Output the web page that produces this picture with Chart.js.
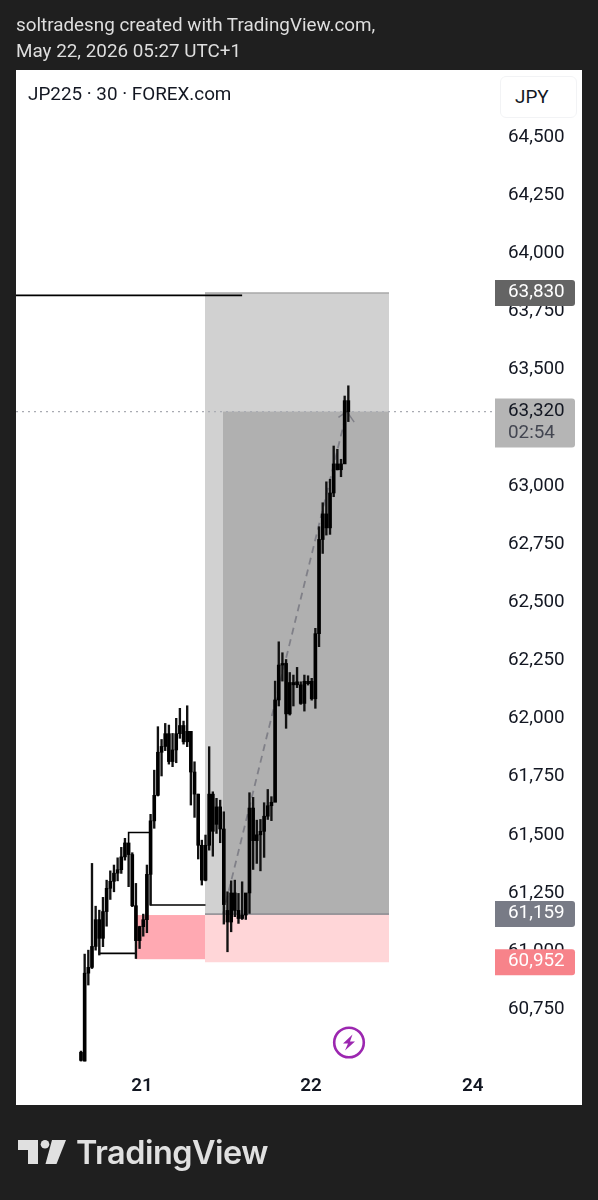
<!DOCTYPE html>
<html>
<head>
<meta charset="utf-8">
<script src="https://cdn.jsdelivr.net/npm/chart.js@4"></script>
<style>
  html, body { margin: 0; padding: 0; background: #1f1f1f; }
  body { width: 598px; height: 1200px; position: relative; overflow: hidden; font-family: Roboto, sans-serif; }
  canvas { position: absolute; left: 0; top: 0; }
  .abs { position: absolute; white-space: nowrap; }
  .head { left: 16px; color: #dedede; font-size: 18.85px; line-height: 28px; }
  #legend { left: 28px; top: 81px; color: #131722; font-size: 18.85px; line-height: 26px; }
  #currency { left: 500px; top: 76px; width: 61px; height: 40px; padding-left: 14px; border: 1px solid #f2f3f5; border-radius: 6px; box-sizing: content-box; color: #131722; font-size: 18.85px; line-height: 40px; background: #fff; }
  #brand { left: 76px; top: 1131px; color: #e0e0e0; font-family: Inter, sans-serif; font-size: 32.4px; font-weight: 600; line-height: 44px; letter-spacing: -0.5px; }
</style>
</head>
<body>
<canvas id="chart" width="598" height="1200"></canvas>
<div class="abs head" style="top:11px">soltradesng created with TradingView.com,</div>
<div class="abs head" style="top:37px">May 22, 2026 05:27 UTC+1</div>
<div class="abs" id="legend">JP225 · 30 · FOREX.com</div>
<div class="abs" id="currency">JPY</div>
<svg class="abs" style="left:331px;top:1025px" width="36" height="36" viewBox="0 0 36 36">
  <circle cx="18" cy="17.5" r="14.8" fill="none" stroke="#9c27b0" stroke-width="2.6"/>
  <path d="M21.5 9.5 L12 18.5 L17 18.5 L14 25.5 L24 16.5 L19 16.5 Z" fill="#9c27b0"/>
</svg>
<svg class="abs" style="left:16px;top:1136px" width="54" height="32" viewBox="0 0 54 32">
  <path d="M2 4 H22 V28 H12 V14 H2 Z" fill="#e0e0e0"/>
  <circle cx="29" cy="8.2" r="4.3" fill="#e0e0e0"/>
  <path d="M36 4 H50 L40.5 28 H29.5 Z" fill="#e0e0e0"/>
</svg>
<div class="abs" id="brand">TradingView</div>

<script>
// 30 min candles
const opens = [60530, 60527, 60905, 60930, 61020, 61135, 61055, 61170, 61270, 61300,
  61335, 61350, 61405, 61465, 61415, 61195, 61045, 61105, 61135, 61330,
  61560, 61670, 61855, 61880, 61935, 61815, 61865, 61935, 61970, 61900,
  61945, 61770, 61675, 61455, 61305, 61455, 61675, 61545, 61620, 61525,
  61175, 61125, 61250, 61175, 61140, 61155, 61250, 61615, 61475, 61500,
  61515, 61580, 61625, 61640, 62080, 62230, 62237, 62020, 62155, 62145,
  62145, 62065, 62160, 62160, 62085, 62365, 62770, 62880, 62820, 62970,
  63095, 63070, 63095, 63367];
const closes = [60565, 60905, 60930, 61020, 61135, 61055, 61170, 61270, 61300, 61335,
  61350, 61405, 61465, 61415, 61195, 61045, 61105, 61135, 61330, 61560,
  61670, 61855, 61880, 61935, 61815, 61865, 61935, 61970, 61900, 61945,
  61770, 61675, 61455, 61305, 61455, 61675, 61515, 61620, 61525, 61200,
  61125, 61250, 61175, 61140, 61155, 61250, 61615, 61475, 61500, 61515,
  61580, 61625, 61640, 62080, 62230, 62237, 62020, 62155, 62145, 62158,
  62065, 62160, 62150, 62085, 62365, 62770, 62880, 62820, 62970, 63095,
  63070, 63095, 63367, 63320];
const highs = [60570, 60987, 61004, 61377, 61193, 61176, 61231, 61305, 61345, 61370,
  61401, 61446, 61485, 61463, 61423, 61291, 61107, 61159, 61370, 61588,
  61778, 61965, 61910, 61979, 61972, 61936, 62001, 62044, 61989, 62055,
  61943, 61814, 61675, 61477, 61499, 61879, 61685, 61657, 61649, 61599,
  61255, 61302, 61305, 61248, 61298, 61248, 61681, 61661, 61563, 61566,
  61638, 61695, 61664, 62161, 62330, 62283, 62254, 62198, 62187, 62220,
  62158, 62187, 62184, 62173, 62388, 62825, 62928, 63018, 63029, 63172,
  63158, 63115, 63387, 63431];
const lows = [60527, 60527, 60854, 60925, 61004, 60983, 61019, 61107, 61222, 61255,
  61302, 61334, 61391, 61277, 61191, 60968, 61011, 61064, 61079, 61198,
  61528, 61667, 61753, 61862, 61804, 61793, 61810, 61915, 61890, 61879,
  61628, 61575, 61396, 61284, 61302, 61434, 61408, 61506, 61466, 61116,
  60997, 61083, 61148, 61119, 61136, 61136, 61162, 61351, 61377, 61345,
  61403, 61566, 61561, 61642, 62054, 62161, 61958, 62015, 62054, 62133,
  62061, 62032, 62144, 62079, 62044, 62309, 62710, 62789, 62792, 62954,
  63069, 63040, 63100, 63277];

const priceTicks = [64500, 64250, 64000, 63750, 63500, 63000, 62750, 62500, 62250, 62000, 61750, 61500, 61250, 61000, 60750];
const dayTicks = [16.66, 62.8, 107];
const dayLabels = ['21', '22', '24'];

// levels of the drawings
const target = 63830;
const last = 63320;
const entry = 61159;
const stop = 60952;
const lastTime = '02:54';
const positionStart = 33.86;
const positionEntry = 38.78;
const positionEnd = 84.1;
const demandStart = 15.02;
const demandTop = 61155;
const demandBottom = 60965;
const swingHighX = [-17.75, 44];
const swingHighY = [63820, 63820];
const structureLowX = [5, 5, 15];
const structureLowY = [61130, 60990, 60990];
const structureHighX = [13, 13, 19, 19, 34];
const structureHighY = [61463, 61510, 61510, 61198, 61198];
const pathX = [38.78, 72.6];
const pathY = [61159, 63320];
const arrowX = [70.3, 72.6, 74.6];
const arrowY = [63295, 63320, 63275];

const xMin = -17.75, xMax = 113.05;
const yMin = 60480, yMax = 64789;

function pts(xs, ys) {
  return xs.map((x, i) => ({ x: x, y: ys[i] }));
}
function lineSet(xs, ys, color, width, dash, order) {
  return { type: 'line', data: pts(xs, ys), borderColor: color, borderWidth: width, borderDash: dash || [], pointRadius: 0, tension: 0, order: order };
}

// white panel and position boxes behind the candles
const panelPlugin = {
  id: 'panel',
  beforeDraw(chart) {
    const c = chart.ctx;
    c.save();
    c.fillStyle = '#ffffff';
    c.fillRect(16, 70, 566, 1035);
    c.restore();
  },
  beforeDatasetsDraw(chart) {
    const c = chart.ctx, x = chart.scales.x, y = chart.scales.y;
    const box = (x0, x1, top, bot, color) => {
      c.fillStyle = color;
      c.fillRect(x.getPixelForValue(x0), y.getPixelForValue(top), x.getPixelForValue(x1) - x.getPixelForValue(x0), y.getPixelForValue(bot) - y.getPixelForValue(top));
    };
    c.save();
    box(positionStart, positionEnd, target, entry, '#d1d1d1');
    box(positionEntry, positionEnd, last, entry, '#b0b0b0');
    box(positionStart, positionEnd, entry, stop, '#ffd6d8');
    box(demandStart, positionStart, demandTop, demandBottom, '#ffa9b2');
    c.fillStyle = '#8a8a90';
    c.fillRect(x.getPixelForValue(positionStart), y.getPixelForValue(entry) - 0.75, x.getPixelForValue(positionEnd) - x.getPixelForValue(positionStart), 1.5);
    c.fillStyle = '#a8a8a8';
    c.fillRect(x.getPixelForValue(positionStart), y.getPixelForValue(target) - 0.75, x.getPixelForValue(positionEnd) - x.getPixelForValue(positionStart), 1.5);
    c.restore();
  },
  afterDraw(chart) {
    const c = chart.ctx, y = chart.scales.y;
    const fmt = v => v.toLocaleString('en-US');
    const tag = (v, color, h, text, sub) => {
      const py = y.getPixelForValue(v);
      const top = py - 13;
      c.fillStyle = color;
      c.beginPath();
      c.roundRect(495, top, 80, h, [0, 3, 3, 0]);
      c.fill();
      c.textAlign = 'left';
      c.textBaseline = 'middle';
      c.font = '18.85px Roboto';
      c.fillStyle = text;
      c.fillText(fmt(v), 508, py - 0.5);
      if (sub) {
        c.fillStyle = '#434651';
        c.fillText(sub, 508, py + 22);
      }
    };
    c.save();
    tag(target, '#646464', 26, '#ffffff');
    tag(last, '#b5b5b5', 49, '#131722', lastTime);
    tag(entry, '#787b86', 26, '#ffffff');
    tag(stop, '#f7838a', 26, '#ffffff');
    c.restore();
  }
};

new Chart(document.getElementById('chart'), {
  type: 'bar',
  data: {
    datasets: [
      { data: pts(highs.map((_, i) => i), highs.map((h, i) => [lows[i], h])), backgroundColor: '#111111', barThickness: 1.7, grouped: false, order: 2 },
      { data: pts(opens.map((_, i) => i), opens.map((o, i) => [o, closes[i]])), backgroundColor: '#000000', barThickness: 3, grouped: false, order: 1 },
      lineSet([xMin, xMax], [last, last], '#a9abb2', 1.3, [2, 4], 6),
      lineSet(pathX, pathY, '#808088', 1.8, [7, 5], 5),
      lineSet(arrowX, arrowY, '#808088', 1.5, [], 5),
      lineSet(swingHighX, swingHighY, '#000000', 1.6, [], 3),
      lineSet(structureLowX, structureLowY, '#000000', 1.6, [], 3),
      lineSet(structureHighX, structureHighY, '#000000', 1.6, [], 3)
    ]
  },
  options: {
    responsive: false,
    animation: false,
    events: [],
    layout: { padding: { left: 16, right: 16, top: 70, bottom: 95 } },
    plugins: { legend: { display: false }, tooltip: { enabled: false } },
    scales: {
      x: {
        type: 'linear',
        min: xMin,
        max: xMax,
        offset: false,
        grid: { display: false, drawTicks: false },
        border: { display: false },
        afterBuildTicks(scale) { scale.ticks = dayTicks.map(v => ({ value: v })); },
        afterFit(scale) { scale.height = 33; scale.paddingLeft = 0; scale.paddingRight = 0; },
        ticks: {
          autoSkip: false,
          maxRotation: 0,
          padding: 3,
          color: '#131722',
          font: { family: 'Roboto', size: 18.85, weight: '600' },
          callback: (v, i) => dayLabels[i]
        }
      },
      y: {
        position: 'right',
        min: yMin,
        max: yMax,
        grid: { display: false, drawTicks: false },
        border: { display: false },
        afterBuildTicks(scale) { scale.ticks = priceTicks.map(v => ({ value: v })); },
        afterFit(scale) { scale.width = 87; },
        ticks: {
          autoSkip: false,
          padding: 13,
          color: '#131722',
          font: { family: 'Roboto', size: 18.85 },
          callback: v => v.toLocaleString('en-US')
        }
      }
    }
  },
  plugins: [panelPlugin]
});
</script>
</body>
</html>
